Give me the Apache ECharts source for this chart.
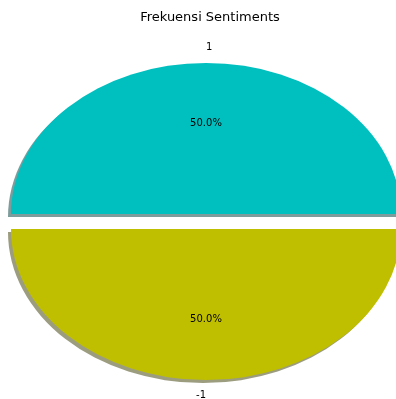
<!DOCTYPE html>
<html><head><meta charset="utf-8">
<script src="https://cdn.jsdelivr.net/npm/echarts@6/dist/echarts.min.js"></script>
<style>html,body{margin:0;padding:0;background:#fff}#c{width:396px;height:399px}</style>
</head><body><div id="c"></div>
<script>
const categories = ['1', '-1'];
const values = [50, 50];
const titleText = 'Frekuensi Sentiments';

const sliceColors = ['#00bfbf', '#bfbf00'];
const shadowColors = ['rgba(0,57,57,0.5)', 'rgba(57,57,0,0.5)'];
const total = values.reduce((a, b) => a + b, 0);
const FONT = 'DejaVu Sans';

const chart = echarts.init(document.getElementById('c'), null, {renderer: 'canvas'});

function renderItem(params, api) {
  const i = params.dataIndex;
  const cx = 206, cy = 221.5, rx = 195, ry = 151;
  const explode = 0.05;
  let start = 0;
  for (let k = 0; k < i; k++) start += values[k] / total * 2 * Math.PI;
  const v = api.value(0);
  const end = start + v / total * 2 * Math.PI;
  const mid = (start + end) / 2;
  const ox = cx + Math.cos(mid) * explode * rx;
  const oy = cy - Math.sin(mid) * explode * ry;
  const sx = rx / ry;
  const sector = (fill, dx, dy, z) => ({
    type: 'group', x: ox + dx, y: oy + dy, scaleX: sx, scaleY: 1, z2: z,
    children: [{
      type: 'sector',
      shape: {cx: 0, cy: 0, r0: 0, r: ry, startAngle: -start, endAngle: -end, clockwise: false},
      style: {fill: fill, stroke: null},
      z2: z
    }]
  });
  const lx = cx + Math.cos(mid) * (1 + explode + 0.1) * rx;
  const ly = cy - Math.sin(mid) * (1 + explode + 0.1) * ry;
  const px = ox + Math.cos(mid) * 0.6 * rx;
  const py = oy - Math.sin(mid) * 0.6 * ry;
  const pct = (v / total * 100).toFixed(1) + '%';
  return {
    type: 'group',
    children: [
      {type: 'group', z2: 0, children: [sector(shadowColors[i], -3, 3, 0)]},
      sector(sliceColors[i], 0, 0, 10),
      {type: 'text', x: lx, y: ly, z2: 20, style: {text: categories[i], fill: '#000', font: '10px "' + FONT + '"',
        align: Math.cos(mid) > 1e-9 || (Math.abs(Math.cos(mid)) < 1e-9 && Math.sin(mid) > 0) ? 'left' : 'right', verticalAlign: 'middle'}},
      {type: 'text', x: px, y: py, z2: 20, style: {text: pct, fill: '#000', font: '10px "' + FONT + '"', align: 'center', verticalAlign: 'middle'}}
    ]
  };
}

chart.setOption({
  animation: false,
  backgroundColor: '#fff',
  title: {text: titleText, left: 205, top: 6, textAlign: 'center',
    textStyle: {fontFamily: FONT, fontSize: 13, fontWeight: 'normal', color: '#000'}},
  series: [
    {type: 'custom', coordinateSystem: 'none', renderItem: function (p, api) {
      const g = renderItem(p, api); return {type: 'group', children: [g.children[0]]};
    }, data: values.map((v, i) => ({name: categories[i], value: [v]})), z: 1},
    {type: 'custom', coordinateSystem: 'none', renderItem: function (p, api) {
      const g = renderItem(p, api); return {type: 'group', children: g.children.slice(1)};
    }, data: values.map((v, i) => ({name: categories[i], value: [v]})), z: 2}
  ]
});
</script></body></html>
